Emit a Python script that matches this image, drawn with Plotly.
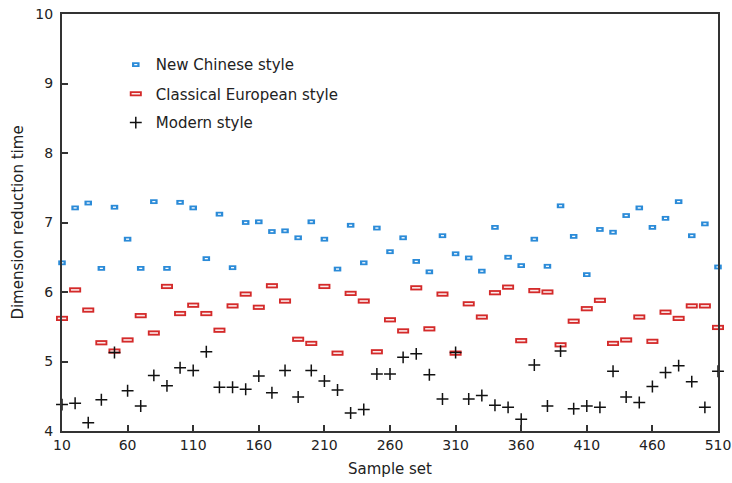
import plotly.graph_objects as go

samples = list(range(10, 511, 10))

new_chinese = [6.42, 7.21, 7.28, 6.34, 7.22, 6.76, 6.34, 7.30, 6.34, 7.29,
               7.21, 6.48, 7.12, 6.35, 7.00, 7.01, 6.87, 6.88, 6.78, 7.01,
               6.76, 6.33, 6.96, 6.42, 6.92, 6.58, 6.78, 6.44, 6.29, 6.81,
               6.55, 6.49, 6.30, 6.93, 6.50, 6.38, 6.76, 6.37, 7.24, 6.80,
               6.25, 6.90, 6.86, 7.10, 7.21, 6.93, 7.06, 7.30, 6.81, 6.98,
               6.36]

classical = [5.62, 6.03, 5.74, 5.27, 5.15, 5.31, 5.66, 5.41, 6.08, 5.69,
             5.81, 5.69, 5.45, 5.80, 5.97, 5.78, 6.09, 5.87, 5.32, 5.26,
             6.08, 5.12, 5.98, 5.87, 5.14, 5.60, 5.44, 6.06, 5.47, 5.97,
             5.12, 5.83, 5.64, 5.99, 6.07, 5.30, 6.02, 6.00, 5.24, 5.58,
             5.76, 5.88, 5.26, 5.31, 5.64, 5.29, 5.71, 5.62, 5.80, 5.80,
             5.49]

modern = [4.38, 4.40, 4.12, 4.45, 5.13, 4.58, 4.36, 4.80, 4.65, 4.91,
          4.87, 5.14, 4.63, 4.63, 4.60, 4.79, 4.55, 4.87, 4.49, 4.87,
          4.72, 4.59, 4.26, 4.31, 4.82, 4.82, 5.06, 5.11, 4.81, 4.46,
          5.13, 4.46, 4.51, 4.37, 4.34, 4.17, 4.95, 4.36, 5.15, 4.32,
          4.36, 4.34, 4.86, 4.49, 4.41, 4.64, 4.84, 4.94, 4.71, 4.34,
          4.86]

x_ticks = list(range(10, 511, 50))
y_ticks = [4, 5, 6, 7, 8, 9, 10]

BLUE = "#2b8bd8"
RED = "#d42a2a"
FONT = "DejaVu Sans"
FS = 15
TFS = 14

fig = go.Figure()

# New Chinese style: small outlined rectangles (outer bar + white inner bar)
fig.add_trace(go.Scatter(
    x=samples, y=new_chinese, mode="markers", name="New Chinese style",
    marker=dict(symbol="line-ew", size=5.4, line=dict(color=BLUE, width=4.8)),
    legend="legend", cliponaxis=False))
fig.add_trace(go.Scatter(
    x=samples, y=new_chinese, mode="markers", name="",
    marker=dict(symbol="line-ew", size=2.2, line=dict(color="white", width=1.3)),
    legend="legend4", cliponaxis=False))

# Classical European style: larger outlined rectangles
fig.add_trace(go.Scatter(
    x=samples, y=classical, mode="markers", name="Classical European style",
    marker=dict(symbol="line-ew", size=8.6, line=dict(color=RED, width=5.2)),
    legend="legend2", cliponaxis=False))
fig.add_trace(go.Scatter(
    x=samples, y=classical, mode="markers", name="",
    marker=dict(symbol="line-ew", size=6.0, line=dict(color="#fbeaea", width=1.6)),
    legend="legend5", cliponaxis=False))

# Modern style: plus markers
fig.add_trace(go.Scatter(
    x=samples, y=modern, mode="markers", name="Modern style",
    marker=dict(symbol="cross-thin", size=8.5, line=dict(color="#111111", width=1.5)),
    legend="legend3", cliponaxis=False))

axis_common = dict(
    showline=True, linecolor="#333333", linewidth=2, mirror=True,
    ticks="inside", ticklen=6, tickwidth=1.5, tickcolor="#333333",
    showgrid=False, zeroline=False, ticklabeloverflow="allow",
    automargin=False,
    tickfont=dict(family=FONT, size=TFS, color="#222222"),
)

leg_common = dict(
    bgcolor="rgba(0,0,0,0)", borderwidth=0, xanchor="left", yanchor="middle",
    font=dict(family=FONT, size=FS, color="#222222"), itemwidth=30,
)
lx = 0.082
y1, y2, y3 = 0.878, 0.808, 0.739

fig.update_layout(
    width=732, height=483,
    margin=dict(l=62, r=14, t=14, b=52),
    paper_bgcolor="white", plot_bgcolor="white",
    font=dict(family=FONT, size=FS, color="#222222"),
    xaxis=dict(range=[10, 510], tickvals=x_ticks,
               title=dict(text="Sample set", font=dict(family=FONT, size=FS), standoff=12),
               **axis_common),
    yaxis=dict(range=[4, 10], tickvals=y_ticks, ticklabelstandoff=4,
               title=dict(text="Dimension reduction time", font=dict(family=FONT, size=FS), standoff=8),
               **axis_common),
    legend=dict(x=lx, y=y1, **leg_common),
    legend4=dict(x=lx, y=y1, **leg_common),
    legend2=dict(x=lx, y=y2, **leg_common),
    legend5=dict(x=lx, y=y2, **leg_common),
    legend3=dict(x=lx, y=y3, **leg_common),
    showlegend=True,
)

fig.write_html("out.html")
